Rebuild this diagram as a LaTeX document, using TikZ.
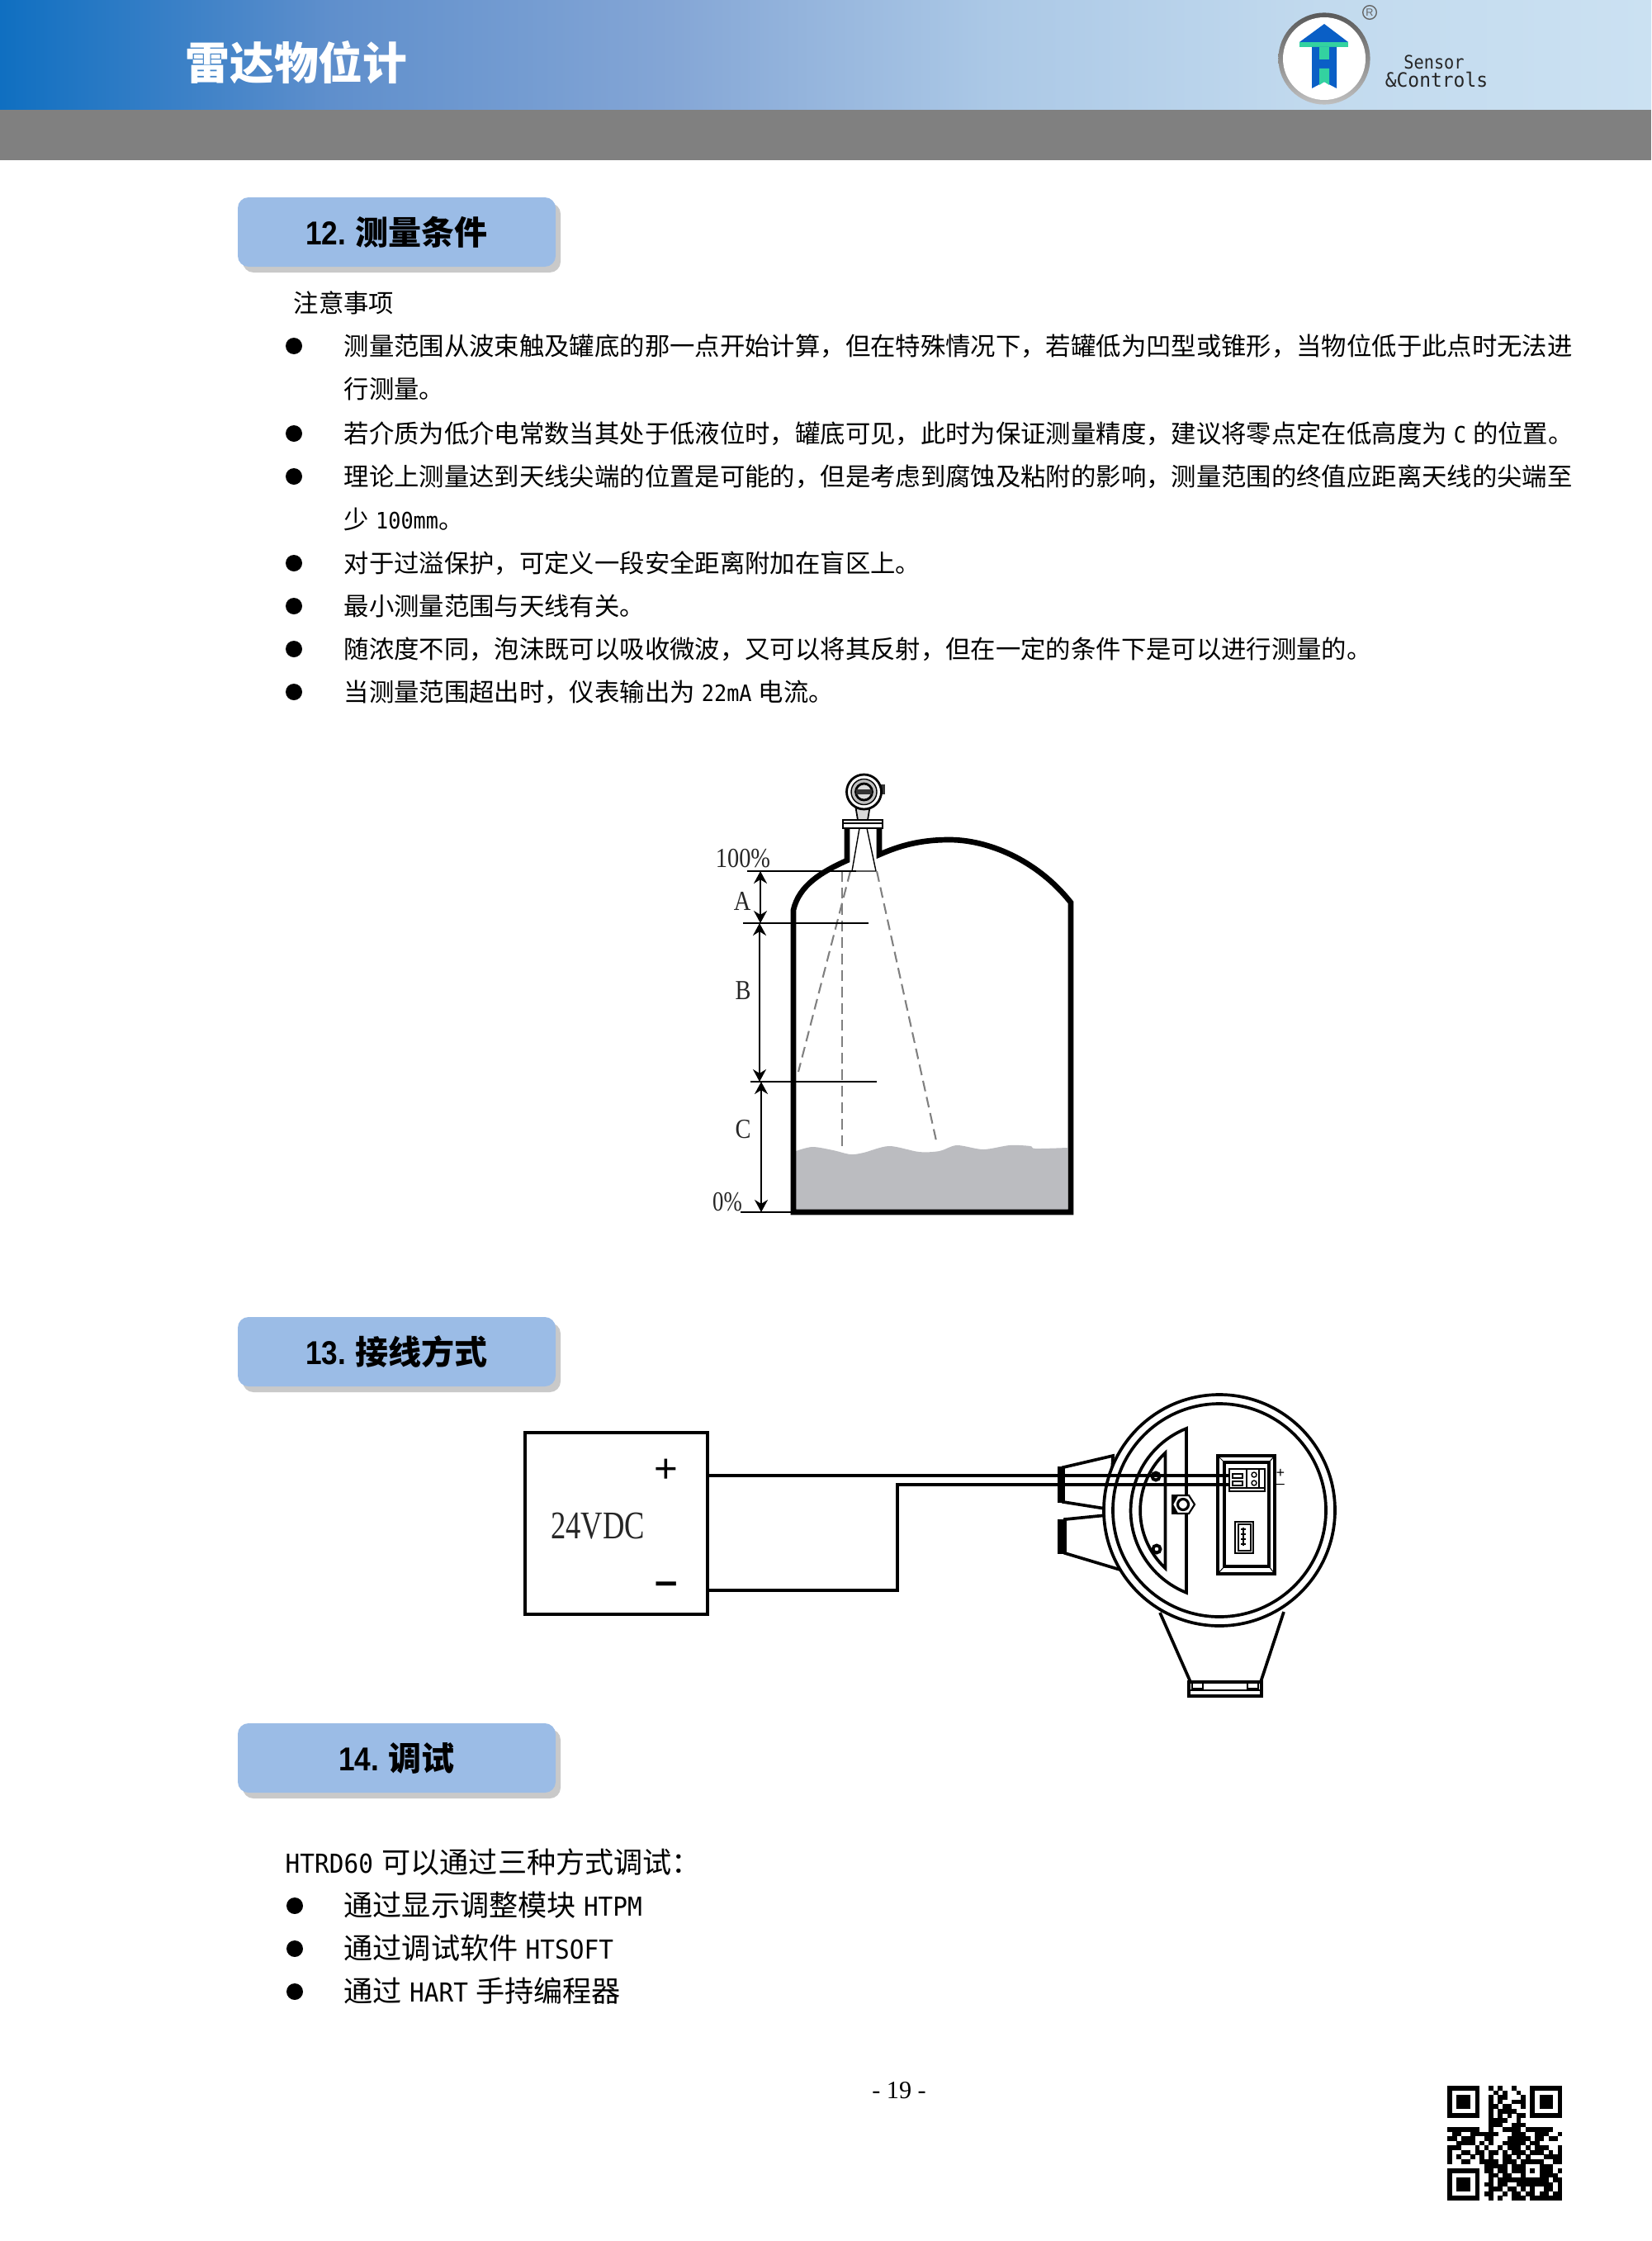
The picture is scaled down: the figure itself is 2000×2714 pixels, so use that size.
\documentclass[tikz,border=0pt]{standalone}
\usepackage{fontspec}
\setmainfont{Noto Sans CJK SC}
\newfontfamily\monofont{DejaVu Sans Mono}
\newfontfamily\serfont{Liberation Serif}
\newfontfamily\headlat{Liberation Sans}
\usetikzlibrary{arrows.meta,shadows}
\definecolor{barleft}{HTML}{0F6FC1}
\definecolor{barone}{HTML}{5F8FCC}
\definecolor{bartwo}{HTML}{83A5D5}
\definecolor{barthree}{HTML}{ABC8E6}
\definecolor{barfour}{HTML}{C2DAEE}
\definecolor{barright}{HTML}{CBE1F2}
\definecolor{bargray}{HTML}{808080}
\definecolor{headfill}{HTML}{9BBCE6}
\definecolor{headshade}{HTML}{C9C9C9}
\definecolor{liquid}{HTML}{BBBCC0}
\definecolor{logoblue}{HTML}{0A5FC6}
\definecolor{logogreen}{HTML}{33D2A0}
\pgfdeclarehorizontalshading{barshade}{100bp}{color(0bp)=(barleft); color(25bp)=(barleft);
  color(35bp)=(barone); color(45bp)=(bartwo); color(55bp)=(barthree); color(65bp)=(barfour);
  color(75bp)=(barright); color(100bp)=(barright)}
\newcommand{\thin}[2]{\scalebox{#1}[1]{#2}}
\newcommand{\lat}[1]{\thin{.92}{\monofont\fontsize{7.8pt}{9pt}\selectfont #1}}
\newcommand{\latb}[1]{\thin{.93}{\monofont\fontsize{9pt}{10pt}\selectfont #1}}
\tikzstyle{bartitle}=[inner sep=0pt, text=white, font=\fontsize{15.3pt}{18pt}\selectfont\bfseries]
\tikzstyle{headbox}=[rectangle, rounded corners=1.3mm, fill=headfill, minimum width=38.5mm, minimum height=8.4mm,
  inner sep=0pt, font=\fontsize{11.4pt}{14pt}\selectfont\bfseries,
  drop shadow={shadow xshift=0.6mm, shadow yshift=-0.7mm, fill=headshade, opacity=1}]
\tikzstyle{txt}=[anchor=base west, inner sep=0pt, font=\fontsize{8.64pt}{11pt}\selectfont]
\tikzstyle{txtb}=[anchor=base west, inner sep=0pt, font=\fontsize{10pt}{12pt}\selectfont]
\tikzstyle{dot}=[fill=black]
\tikzstyle{wall}=[line width=1.9pt, join=miter]
\tikzstyle{dim}=[{Stealth[length=1.5mm,width=1.6mm]}-{Stealth[length=1.5mm,width=1.6mm]}, line width=0.55pt]
\tikzstyle{lvl}=[line width=0.5pt]
\tikzstyle{beam}=[dash pattern=on 1.3mm off 0.7mm, draw=bargray, line width=0.6pt]
\tikzstyle{tanklab}=[inner sep=0pt, text=black!85, font=\serfont\fontsize{9.5pt}{11pt}\selectfont]
\tikzstyle{wire}=[line width=0.95pt]
\tikzstyle{body}=[line width=1.05pt, fill=white]
\tikzstyle{brand}=[inner sep=0pt, text=black!85]
\begin{document}
\begin{tikzpicture}[x=0.1mm,y=-0.1mm]
\useasboundingbox (0,0) rectangle (2000,2714);
\shade[shading=barshade] (0,0) rectangle (2000,133);
\fill[bargray] (0,133) rectangle (2000,194);
\node[bartitle] (title) at (359,76) {雷达物位计};

\shade[top color=black!65, bottom color=black!25] (1604,71) circle (55.6);
\fill[white] (1604,71) circle (50);
\fill[logoblue] (1604,29) -- (1633,51) -- (1574,51) -- cycle;
\fill[logogreen] (1574,51) rectangle (1633,57);
\fill[logoblue] (1589,57) -- (1619,57) -- (1619,107) -- (1604,99) -- (1589,107) -- cycle;
\fill[logogreen] (1598,57) rectangle (1610,72);
\fill[logogreen] (1598,83) -- (1610,83) -- (1610,103) -- (1604,99) -- (1598,103) -- cycle;
\node[draw=black!60, line width=0.4pt, circle, minimum size=1.66mm, inner sep=0pt, text=black!60, font=\headlat\fontsize{3.6pt}{4pt}\selectfont] (regmark) at (1659,15) {R};
\node[brand, font=\monofont\fontsize{6.4pt}{8pt}\selectfont] (brand1) at (1737,75) {\thin{.9}{Sensor}};
\node[brand, font=\monofont\fontsize{6.8pt}{8pt}\selectfont] (brand2) at (1740,97) {\thin{.96}{\&Controls}};

\node[headbox] (head12) at (480.5,281) {{\headlat \thin{.88}{12.} }测量条件};
\node[txt] (note0) at (355,378) {注意事项};
\node[txt] (note1) at (416,430) {测量范围从波束触及罐底的那一点开始计算，但在特殊情况下，若罐低为凹型或锥形，当物位低于此点时无法进};
\node[txt] (note1b) at (416,482) {行测量。};
\node[txt] (note2) at (416,536) {若介质为低介电常数当其处于低液位时，罐底可见，此时为保证测量精度，建议将零点定在低高度为\hspace{2.3pt}\lat{C}\hspace{2.3pt}的位置。};
\node[txt] (note3) at (416,588) {理论上测量达到天线尖端的位置是可能的，但是考虑到腐蚀及粘附的影响，测量范围的终值应距离天线的尖端至};
\node[txt] (note3b) at (416,640) {少\hspace{2.3pt}\lat{100mm}。};
\node[txt] (note4) at (416,693) {对于过溢保护，可定义一段安全距离附加在盲区上。};
\node[txt] (note5) at (416,745) {最小测量范围与天线有关。};
\node[txt] (note6) at (416,797) {随浓度不同，泡沫既可以吸收微波，又可以将其反射，但在一定的条件下是可以进行测量的。};
\node[txt] (note7) at (416,849) {当测量范围超出时，仪表输出为\hspace{2.3pt}\lat{22mA}\hspace{2.3pt}电流。};
\foreach \by in {419,525,577,682,734,786,838}
  \fill[dot] (356,\by) circle (10);

\fill[liquid] plot[smooth] coordinates {(964,1394) (984,1389) (1009,1393) (1030,1398) (1046,1396) (1077,1388) (1113,1395) (1138,1394) (1159,1387) (1191,1392) (1223,1387) (1248,1388) (1254,1391) (1293,1390)} -- (1293,1466) -- (964,1466) -- cycle;
\draw[wall] (1026,1003) -- (1026,1042) .. controls (995,1056) and (968,1072) .. (961,1102) -- (961,1468) -- (1297,1468) -- (1297,1093) .. controls (1255,1040) and (1195,1017) .. (1150,1017) .. controls (1115,1017) and (1090,1024) .. (1065,1035) -- (1065,1003);
\draw[line width=0.4pt, fill=white] (1021,993) rectangle (1069,1003);
\draw[line width=0.3pt] (1021,997) -- (1069,997);
\draw[line width=0.4pt] (1041,1003) -- (1032,1055) -- (1061,1055) -- (1050,1003);
\draw[line width=0.5pt, fill=black!15] (1036,975) -- (1054,975) -- (1051,993) -- (1039,993) -- cycle;
\fill[black!80] (1064,950) rectangle (1072,962);
\draw[line width=0.8pt, fill=white] (1046.5,959) circle (21);
\draw[line width=0.4pt, fill=black!25] (1046.5,959) circle (15.5);
\draw[line width=0.8pt, fill=black!15] (1046.5,959) circle (10);
\fill[black!80] (1037,956) rectangle (1056,962);

\coordinate (top0) at (905,1055);
\coordinate (top1) at (1037,1055);
\coordinate (beamA) at (1030,1055);
\coordinate (beamA1) at (967,1298);
\coordinate (beamB) at (1020,1055);
\coordinate (beamB1) at (1020,1391);
\coordinate (beamC) at (1062,1055);
\coordinate (beamC1) at (1135,1386);
\coordinate (lvlA0) at (900,1118);
\coordinate (lvlA1) at (1052,1118);
\coordinate (lvlB0) at (909,1310);
\coordinate (lvlB1) at (1062,1310);
\coordinate (lvlC0) at (897,1468);
\coordinate (lvlC1) at (961,1468);
\coordinate (dimA0) at (921,1055);
\coordinate (dimA1) at (921,1118);
\coordinate (dimB0) at (920,1118);
\coordinate (dimB1) at (920,1310);
\coordinate (dimC0) at (922,1310);
\coordinate (dimC1) at (922,1468);
\draw[beam] (beamA) -- (beamA1);
\draw[beam] (beamB) -- (beamB1);
\draw[beam] (beamC) -- (beamC1);
\draw[lvl] (top0) -- (top1);
\draw[lvl] (lvlA0) -- (lvlA1);
\draw[lvl] (lvlB0) -- (lvlB1);
\draw[lvl] (lvlC0) -- (lvlC1);
\draw[dim] (dimA0) -- (dimA1);
\draw[dim] (dimB0) -- (dimB1);
\draw[dim] (dimC0) -- (dimC1);
\node[tanklab] (pct100) at (900,1040) {\thin{.85}{100\%}};
\node[tanklab] (labA) at (899,1091) {\thin{.85}{A}};
\node[tanklab] (labB) at (900,1200) {\thin{.85}{B}};
\node[tanklab] (labC) at (900,1368) {\thin{.85}{C}};
\node[tanklab] (pct0) at (881,1456) {\thin{.8}{0\%}};

\node[headbox] (head13) at (480.5,1637) {{\headlat \thin{.88}{13.} }接线方式};

\node[draw, line width=0.95pt, minimum width=22.1mm, minimum height=22mm, inner sep=0pt] (psu) at (746.5,1845) {};
\node[inner sep=0pt, font=\serfont\fontsize{13.5pt}{16pt}\selectfont, text=black!85] (vdc) at (724,1848) {\thin{.77}{24VDC}};
\node[inner sep=0pt, font=\headlat\fontsize{14pt}{15pt}\selectfont] (plus) at (807,1781) {+};
\node[inner sep=0pt, font=\headlat\fontsize{14pt}{15pt}\selectfont\bfseries] (minus) at (807,1924) {–};

\draw[body] (1405,1953) -- (1442,2037) -- (1527,2037) -- (1555,1952);
\draw[body] (1440,2037) rectangle (1528,2054);
\draw[line width=0.6pt] (1440,2047) -- (1528,2047);
\draw[line width=0.5pt] (1444,2037) rectangle (1457,2045);
\draw[line width=0.5pt] (1511,2037) rectangle (1524,2045);
\draw[body] (1288,1777) -- (1348,1763) -- (1345,1828) -- (1288,1819) -- cycle;
\fill (1281,1776) rectangle (1288,1820);
\draw[body] (1290,1840) -- (1340,1835) -- (1360,1902) -- (1290,1881) -- cycle;
\fill (1281,1840) rectangle (1290,1882);
\draw[body] (1477,1829) circle (140);
\draw[line width=1.05pt] (1477,1829) circle (129);
\draw[line width=1.05pt] (1437,1730) arc[start angle=248.3,end angle=111.7,radius=107] -- cycle;
\draw[line width=1.05pt] (1411.5,1759.5) arc[start angle=227,end angle=133,radius=95.5] -- cycle;
\draw[line width=1.1pt] (1400,1788) circle (4.5);
\draw[line width=1.1pt] (1401,1876) circle (4.5);
\fill (1419,1810) rectangle (1433,1834);
\draw[line width=0.6pt, fill=white] (1420,1822) -- (1426,1811) -- (1440,1811) -- (1447,1822) -- (1440,1833) -- (1426,1833) -- cycle;
\draw[line width=0.9pt] (1433,1822) circle (6.5);
\draw[line width=1.2pt] (1475,1763) rectangle (1544,1906);
\draw[line width=0.9pt] (1483,1771) rectangle (1537,1897);
\draw[line width=0.3pt] (1475,1763) -- (1483,1771) (1544,1763) -- (1537,1771) (1475,1906) -- (1483,1897) (1544,1906) -- (1537,1897);
\draw[line width=0.4pt] (1489,1779) rectangle (1532,1806);
\draw[line width=0.3pt] (1510,1779) -- (1510,1802) (1525,1779) -- (1525,1802) (1489,1802) -- (1532,1802);
\draw[line width=0.3pt] (1493,1785) rectangle (1505,1790);
\draw[line width=0.3pt] (1493,1794) rectangle (1505,1799);
\draw[line width=0.4pt] (1519,1786) circle (3);
\draw[line width=0.4pt] (1519,1796) circle (3);
\draw[line width=0.5pt] (1496,1843) rectangle (1518,1881);
\draw[line width=0.3pt] (1500,1846) rectangle (1515,1878);
\draw[line width=0.4pt] (1506,1850) -- (1506,1872);
\foreach \ty in {1852,1858,1864,1870}
  \draw[line width=0.3pt] (1503,\ty) -- (1509,\ty);

\node[inner sep=0pt, font=\headlat\fontsize{5pt}{6pt}\selectfont] (tplus) at (1551,1784) {+};
\node[inner sep=0pt, font=\headlat\fontsize{5pt}{6pt}\selectfont] (tminus) at (1551,1800) {–};
\coordinate (wp0) at (857,1787);
\coordinate (wp1) at (1488,1787);
\coordinate (wm0) at (857,1926);
\coordinate (wm1) at (1087,1926);
\coordinate (wm2) at (1087,1798);
\coordinate (wm3) at (1488,1798);
\draw[wire] (wp0) -- (wp1);
\draw[wire] (wm0) -- (wm1) -- (wm2) -- (wm3);

\node[headbox] (head14) at (480.5,2129) {{\headlat \thin{.88}{14.} }调试};
\node[txtb] (tune0) at (345,2268) {\latb{HTRD60}\hspace{3pt}可以通过三种方式调试：};
\node[txtb] (tune1) at (416,2320) {通过显示调整模块\hspace{2.6pt}\latb{HTPM}};
\node[txtb] (tune2) at (416,2372) {通过调试软件\hspace{2.6pt}\latb{HTSOFT}};
\node[txtb] (tune3) at (416,2424) {通过\hspace{2.6pt}\latb{HART}\hspace{2.6pt}手持编程器};
\foreach \by in {2308,2360,2412}
  \fill[dot] (357,\by) circle (10);

\node[inner sep=0pt, font=\serfont\fontsize{8.6pt}{10pt}\selectfont] (pageno) at (1089,2532) {- 19 -};

\begin{scope}[shift={(1753.3,2526)},x=0.556mm,y=-0.556mm]
\foreach \fx/\fy in {0/0,18/0,0/18} {
  \draw[line width=0.556mm] (\fx+0.5,\fy+0.5) rectangle (\fx+6.5,\fy+6.5);
  \fill (\fx+2,\fy+2) rectangle (\fx+5,\fy+5);
}
\foreach \qy/\qrow in {0/{9,11,14},1/{10,12,15},2/{9,11,12,16},3/{9,11,14,15,16},4/{9,10,12,13,16},5/{9,11,12,13,14},6/{9,11,13,15,16},7/{9,10,11,12,15},8/{9,10,11,14,15,16},
  9/{0,1,2,3,4,5,6,9,12,13,14,15,17,18,19,20,21,22},10/{1,2,5,6,7,8,9,10,14,15,16,19,20,21,24},11/{0,1,3,4,5,8,9,13,14,15,16,17,19,20,22,23},12/{2,3,4,5,7,9,12,13,14,15,16,18,19},13/{0,1,2,6,8,11,13,14,15,17,19,20,21,24},14/{0,3,4,6,7,9,10,12,14,15,16,18,19,20,22,24},15/{0,2,5,7,9,12,13,15,17,21,22,23,24},
  16/{0,3,4,7,8,9,10,12,13,14,16,17,18,19,20,23,24},17/{8,9,10,11,12,14,15,16,20,21,22},18/{8,9,11,12,14,15,16,18,20,21,22,24},19/{9,10,12,13,16,20,21,22,23},20/{9,11,12,13,14,15,16,17,18,19,20,21,23,24},21/{8,9,11,12,15,16,17,18,19,20,21,22,24},22/{9,10,11,13,14,16,18,21,22,24},23/{8,9,12,14,15,17,18,20,21,23,24},24/{9,11,14,15,16,18,19,20,21,22,23,24}}
  \foreach \qx in \qrow
    \fill (\qx,\qy) rectangle ++(1.02,1.02);
\end{scope}
\end{tikzpicture}
\end{document}
